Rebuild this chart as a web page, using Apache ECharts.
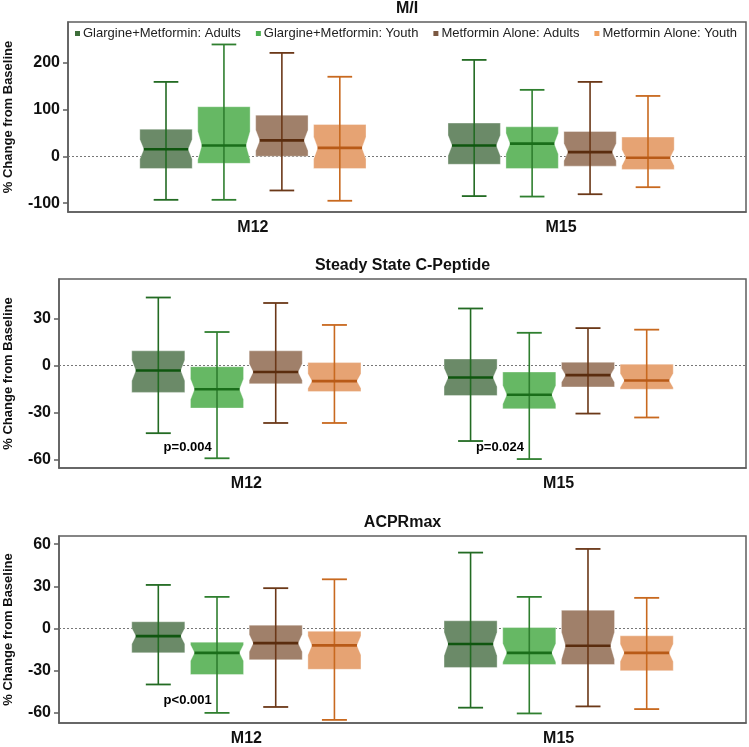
<!DOCTYPE html>
<html>
<head>
<meta charset="utf-8">
<script src="https://cdn.jsdelivr.net/npm/echarts@6/dist/echarts.min.js"></script>
<style>
html,body{margin:0;padding:0;background:#fff;}
#chart{width:749px;height:747px;}
</style>
</head>
<body>
<div id="chart"></div>
<script>
// ---------- data ----------
const categories = ['M12', 'M15'];
const groups = ['Glargine+Metformin: Adults', 'Glargine+Metformin: Youth', 'Metformin Alone: Adults', 'Metformin Alone: Youth'];
const panelTitles = ['M/I', 'Steady State C-Peptide', 'ACPRmax'];
const yAxisTitle = '% Change from Baseline';

// each row: [min, Q1, median, Q3, max] for M12 then M15
// Panel 1: M/I
const mi_GA = [[-93, -26, 15, 58, 159], [-85, -17, 23, 71, 206]];
const mi_GY = [[-93, -15, 23, 106, 239], [-86, -26, 27, 63, 142]];
const mi_MA = [[-73, 0, 34, 88, 221], [-81, -21, 9, 53, 159]];
const mi_MY = [[-95, -26, 18, 68, 170], [-66, -28, -3, 41, 129]];
// Panel 2: Steady State C-Peptide
const cp_GA = [[-43, -17, -3, 9.5, 43.5], [-48, -19, -7.5, 4.3, 36.5]];
const cp_GY = [[-59, -27, -15, -0.6, 21.5], [-59.5, -27.5, -18.5, -4, 21]];
const cp_MA = [[-36.5, -11.5, -4, 9.5, 40], [-30.5, -13.5, -6, 2.2, 24]];
const cp_MY = [[-36.5, -16.5, -9.8, 2, 26], [-33, -15, -9.4, 1, 23]];
// Panel 3: ACPRmax
const ac_GA = [[-39.8, -17.3, -5.4, 4.8, 31], [-56.3, -27.7, -11, 5.5, 54]];
const ac_GY = [[-60, -32.7, -17.3, -9.7, 22.5], [-60.4, -25.6, -17.3, 0.7, 22.5]];
const ac_MA = [[-55.8, -22.2, -10.4, 2.4, 28.7], [-55.4, -25.6, -12.3, 13, 56.6]];
const ac_MY = [[-65, -29, -12, -2, 35], [-57.3, -30, -17.3, -5.2, 21.8]];

// y tick labels per panel
const ticks1 = [-100, 0, 100, 200];
const ticks2 = [-60, -30, 0, 30];
const ticks3 = [-60, -30, 0, 30, 60];

// p-value annotations: [panel, categoryIndex, y, text]
const pNotes = [
  [1, 0, -52, 'p=0.004'],
  [1, 1, -52, 'p=0.024'],
  [2, 0, -51.4, 'p<0.001']
];

// ---------- styling ----------
const FONT = '"Liberation Sans", Arial, Helvetica, sans-serif';
const fills = ['#6b8a68', '#66b864', '#a0806a', '#e6a373'];
const lines = ['#236b23', '#2f7f2f', '#6b3818', '#c8691f'];
const medCols = ['#0f560f', '#1a6e1a', '#5a2c0e', '#b85a17'];
const legendCols = ['#3d6e3a', '#4caf50', '#7b5842', '#f0a060'];
const OFFS = [-0.282, -0.094, 0.094, 0.282];
const BOX_W = 0.17, CAP_W = 0.08;

const panels = [
  {data: [mi_GA, mi_GY, mi_MA, mi_MY], ticks: ticks1, min: -119, max: 287, grid: {left: 68, right: 3, top: 22, height: 190}},
  {data: [cp_GA, cp_GY, cp_MA, cp_MY], ticks: ticks2, min: -65.2, max: 55.3, grid: {left: 59, right: 3, top: 279, height: 189}},
  {data: [ac_GA, ac_GY, ac_MA, ac_MY], ticks: ticks3, min: -67.2, max: 65.8, grid: {left: 59, right: 3, top: 536, height: 187}}
];

function makeRender(gi) {
  return function (params, api) {
    const x = api.value(0), lo = api.value(1), q1 = api.value(2), md = api.value(3), q3 = api.value(4), hi = api.value(5);
    const cx = api.coord([x, md])[0];
    const w = api.size([BOX_W, 0])[0];
    const cw = api.size([CAP_W, 0])[0];
    const yLo = api.coord([x, lo])[1], yQ1 = api.coord([x, q1])[1], yMd = api.coord([x, md])[1];
    const yQ3 = api.coord([x, q3])[1], yHi = api.coord([x, hi])[1];
    const iqr = yQ1 - yQ3;
    const nh = Math.max(7, 0.25 * iqr);
    const nTop = Math.max(yQ3, yMd - nh), nBot = Math.min(yQ1, yMd + nh);
    const ind = 4;
    const L = cx - w / 2, R = cx + w / 2;
    const pts = [[L, yQ3], [R, yQ3], [R, nTop], [R - ind, yMd], [R, nBot], [R, yQ1], [L, yQ1], [L, nBot], [L + ind, yMd], [L, nTop]];
    return {
      type: 'group',
      children: [
        {type: 'polygon', shape: {points: pts}, style: {fill: fills[gi], stroke: 'rgba(255,255,255,0.35)', lineWidth: 1}},
        {type: 'line', shape: {x1: cx, y1: yHi, x2: cx, y2: yLo}, style: {stroke: lines[gi], lineWidth: 1.6}},
        {type: 'line', shape: {x1: cx - cw / 2, y1: yHi, x2: cx + cw / 2, y2: yHi}, style: {stroke: lines[gi], lineWidth: 1.8}},
        {type: 'line', shape: {x1: cx - cw / 2, y1: yLo, x2: cx + cw / 2, y2: yLo}, style: {stroke: lines[gi], lineWidth: 1.8}},
        {type: 'line', shape: {x1: L + ind, y1: yMd, x2: R - ind, y2: yMd}, style: {stroke: medCols[gi], lineWidth: 2.6}}
      ]
    };
  };
}

const grids = [], xAxes = [], yAxes = [], series = [], graphics = [];
panels.forEach((p, pi) => {
  grids.push(Object.assign({show: true, borderColor: '#5e5e5e', borderWidth: 1.5, backgroundColor: 'transparent'}, p.grid));
  xAxes.push({
    type: 'value', gridIndex: pi, min: -0.6, max: 1.6,
    axisLine: {show: true, onZero: false, lineStyle: {color: '#5e5e5e', width: 1.5}},
    axisTick: {show: false},
    splitLine: {show: false},
    axisLabel: {
      customValues: [0, 1],
      formatter: v => categories[Math.round(v)] || '',
      fontFamily: FONT, fontSize: 16, fontWeight: 'bold', color: '#111', margin: 8
    }
  });
  yAxes.push({
    type: 'value', gridIndex: pi, min: p.min, max: p.max,
    axisLine: {show: true, onZero: false, lineStyle: {color: '#5e5e5e', width: 1.5}},
    axisTick: {show: true, customValues: p.ticks, length: 5, lineStyle: {color: '#5e5e5e', width: 1.5}},
    splitLine: {show: false},
    axisLabel: {customValues: p.ticks, fontFamily: FONT, fontSize: 16, fontWeight: 'bold', color: '#111', margin: 8}
  });
  // zero reference line
  series.push({
    type: 'line', xAxisIndex: pi, yAxisIndex: pi, data: [], z: 1, silent: true,
    markLine: {silent: true, symbol: 'none', z: 1, label: {show: false},
      lineStyle: {color: '#777', type: [2, 2], width: 1}, data: [{yAxis: 0}]}
  });
  p.data.forEach((rows, gi) => {
    series.push({
      type: 'custom', name: groups[gi], xAxisIndex: pi, yAxisIndex: pi, z: 3,
      itemStyle: {color: legendCols[gi]},
      renderItem: makeRender(gi),
      encode: {x: 0, y: [1, 2, 3, 4, 5]},
      data: rows.map((r, ci) => [ci + OFFS[gi]].concat(r))
    });
  });
  const gTop = p.grid.top, gH = p.grid.height;
  graphics.push({type: 'text', x: (p.grid.left + 746) / 2, y: gTop - 13,
    style: {text: panelTitles[pi], font: 'bold 16px ' + FONT, fill: '#111', textAlign: 'center', textVerticalAlign: 'middle'}});
  graphics.push({type: 'text', x: 8, y: gTop + gH / 2, rotation: Math.PI / 2,
    style: {text: yAxisTitle, font: 'bold 13px ' + FONT, fill: '#111', textAlign: 'center', textVerticalAlign: 'middle'}});
});

// p-value labels
[1, 2].forEach(pi => {
  series.push({
    type: 'scatter', xAxisIndex: pi, yAxisIndex: pi, symbolSize: 1, itemStyle: {opacity: 0}, z: 5, silent: true,
    data: pNotes.filter(n => n[0] === pi).map(n => [n[1] + (OFFS[0] + OFFS[1]) / 2, n[2], n[3]]),
    label: {show: true, position: 'inside', formatter: d => d.value[2], fontFamily: FONT, fontSize: 13, fontWeight: 'bold', color: '#000', opacity: 1}
  });
});

const chart = echarts.init(document.getElementById('chart'), null, {renderer: 'canvas'});
chart.setOption({
  animation: false,
  backgroundColor: '#fff',
  grid: grids,
  xAxis: xAxes,
  yAxis: yAxes,
  legend: {
    data: groups, left: 75, top: 27, padding: 0, itemWidth: 5, itemHeight: 5, itemGap: 15, icon: 'rect',
    textStyle: {fontFamily: FONT, fontSize: 13, color: '#222', padding: [0, 0, 0, -2]}
  },
  graphic: graphics,
  series: series
});
</script>
</body>
</html>
